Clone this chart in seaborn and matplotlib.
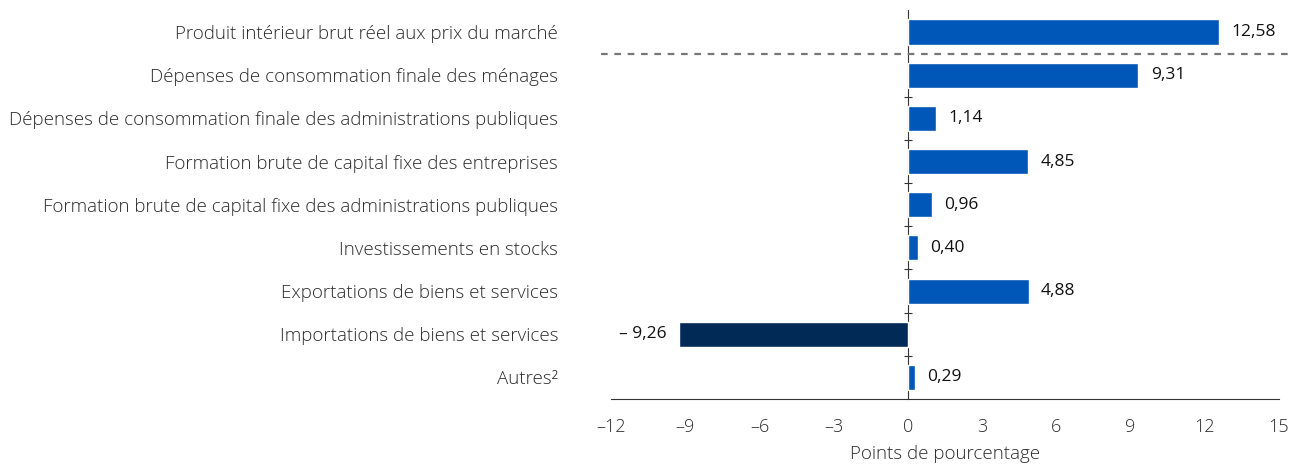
import numpy as np
import pandas as pd
import matplotlib.pyplot as plt
import seaborn as sns

categories = [
    "Produit intérieur brut réel aux prix du marché",
    "Dépenses de consommation finale des ménages",
    "Dépenses de consommation finale des administrations publiques",
    "Formation brute de capital fixe des entreprises",
    "Formation brute de capital fixe des administrations publiques",
    "Investissements en stocks",
    "Exportations de biens et services",
    "Importations de biens et services",
    "Autres²",
]
values = [12.58, 9.31, 1.14, 4.85, 0.96, 0.40, 4.88, -9.26, 0.29]
xticks = [-12, -9, -6, -3, 0, 3, 6, 9, 12, 15]

BLUE = "#0057b8"
NAVY = "#012a57"
TXT = "#2b2b2b"


def fmt(v):
    s = f"{abs(v):.2f}".replace(".", ",")
    return f"– {s}" if v < 0 else s


sns.set_theme(style="white")
plt.rcParams["font.family"] = ["Open Sans", "DejaVu Sans"]

df = pd.DataFrame({"cat": categories, "val": values})
df["sign"] = np.where(df["val"] < 0, "neg", "pos")

fig = plt.figure(figsize=(12.98, 4.69), dpi=100)
ax = fig.add_axes([611 / 1298, 1 - 399 / 469, (1279 - 611) / 1298, (399 - 10.4) / 469])

sns.barplot(data=df, x="val", y="cat", hue="sign", palette={"pos": BLUE, "neg": NAVY},
            dodge=False, legend=False, width=0.58, saturation=1, ax=ax)

ax.set_xlim(-12, 15)
ax.set_ylim(len(categories) - 0.5, -0.5)
ax.set_xticks(xticks)
ax.set_xticklabels([f"–{abs(t)}" if t < 0 else str(t) for t in xticks],
                   fontsize=13, color=TXT, fontweight="light")
ax.tick_params(axis="x", direction="out", length=8, width=0.8, color="#333333", pad=6)
ax.set_yticks(range(len(categories)))
ax.set_yticklabels(categories, fontsize=13.5, color=TXT, fontweight="light")
ax.tick_params(axis="y", length=0, pad=38)
ax.set_ylabel("")
ax.set_xlabel("Points de pourcentage", fontsize=13.5, color=TXT, fontweight="light", labelpad=6)

for s in ["top", "right", "left"]:
    ax.spines[s].set_visible(False)
ax.spines["bottom"].set_color("#333333")
ax.spines["bottom"].set_linewidth(0.8)

# zero axis with boundary ticks
zero_pos = (0 - xticks[0]) / (xticks[-1] - xticks[0])
sec = ax.secondary_yaxis(zero_pos)
sec.set_yticks(np.arange(1.5, len(categories) - 1, 1.0))
sec.set_yticklabels([])
sec.tick_params(axis="y", direction="inout", length=6, width=0.8, color="#333333")
sec.spines["right"].set_visible(False)
sec.spines["left"].set_color("#333333")
sec.spines["left"].set_linewidth(0.8)

# separator between total and components
ax.axhline(0.5, xmin=-0.015, xmax=1.016, color="#777777", ls=(0, (3, 3)), lw=1.6, clip_on=False)

for cont in ax.containers:
    lab = ["" if np.isnan(b.get_width()) else fmt(b.get_width()) for b in cont]
    ax.bar_label(cont, labels=lab, padding=9, fontsize=12.5, color="#111111")

fig.savefig("out.png", dpi=100)
